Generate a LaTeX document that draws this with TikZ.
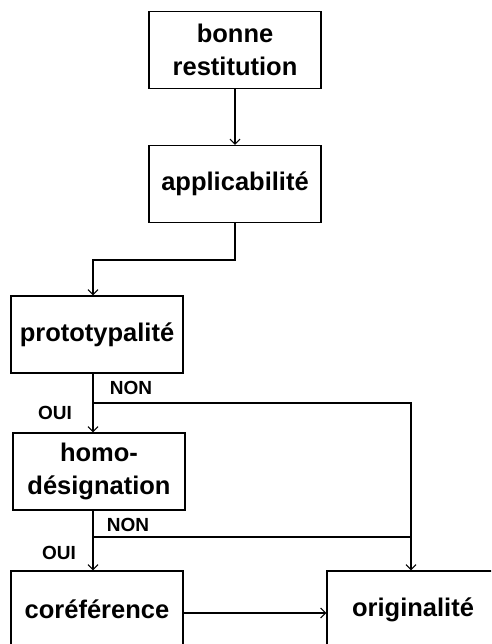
\documentclass[tikz,border=0pt]{standalone}
\usepackage{fontspec}
\setmainfont{Liberation Sans}
\usetikzlibrary{arrows.meta}
\begin{document}
\begin{tikzpicture}[x=1pt,y=-1pt,
  box/.style={draw, line width=1.4pt, rectangle, minimum width=172pt, minimum height=77pt,
    inner sep=0pt, align=center, font=\fontsize{25.5}{33}\selectfont\bfseries},
  lbl/.style={font=\fontsize{19}{20}\selectfont\bfseries, inner sep=0pt},
  con/.style={line width=1.4pt},
  arr/.style={con, -{Straight Barb[length=5pt,width=10pt,line width=1pt]}}]
\useasboundingbox (0,0) rectangle (491,644);
\clip (0,0) rectangle (491,644);
\node[box] (br) at (235,50) {bonne\\restitution};
\node[box] (app) at (235,184) {applicabilité};
\node[box] (proto) at (97,334.5) {prototypalité};
\node[box] (homo) at (99,471.5) {homo-\\désignation};
\node[box] (coref) at (97,609.5) {coréférence};
\node[box] (orig) at (413,609.5) {originalité};
\coordinate (k1) at (93,260);
\coordinate (b1) at (93,403);
\coordinate (r1) at (411,403);
\coordinate (b2) at (93,537);
\coordinate (r2) at (411,537);
\draw[arr] (br.south) -- (app.north);
\draw[arr] (app.south) |- (k1) -- (k1 |- proto.north);
\draw[arr] (k1 |- proto.south) -- (k1 |- homo.north);
\draw[arr] (b1) -- (r1) -- (r1 |- orig.north);
\draw[arr] (k1 |- homo.south) -- (k1 |- coref.north);
\draw[con] (b2) -- (r2);
\draw[arr] ([yshift=-3.5pt]coref.east) -- ([yshift=-3.5pt]orig.west);
\node[lbl] (non1) at (131,388) {NON};
\node[lbl] (oui1) at (55,413) {OUI};
\node[lbl] (non2) at (128,525) {NON};
\node[lbl] (oui2) at (59,553) {OUI};
\end{tikzpicture}
\end{document}
